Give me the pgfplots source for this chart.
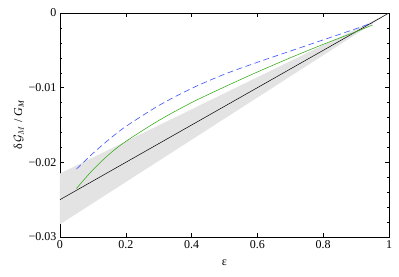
\documentclass[border=0pt]{standalone}
\usepackage{fontspec}
\setmainfont{Liberation Serif}
\usepackage{pgfplots}
\pgfplotsset{compat=1.18}
\definecolor{cgreen}{RGB}{50,170,20}
\definecolor{cblue}{RGB}{70,90,255}
\begin{document}
\begin{tikzpicture}
\begin{axis}[
  scale only axis, width=329pt, height=224pt,
  xmin=0, xmax=1, ymin=-0.03, ymax=0,
  scaled y ticks=false, scaled x ticks=false,
  xtick={0,0.2,0.4,0.6,0.8,1},
  xticklabels={0,0.2,0.4,0.6,0.8,1},
  ytick={-0.03,-0.02,-0.01,0},
  yticklabels={−0.03,−0.02,−0.01,0},
  minor y tick num=4,
  /pgf/number format/assume math mode=true,
  tick label style={font=\fontsize{12}{14}\selectfont},
  label style={font=\fontsize{12}{14}\selectfont},
  tick style={black, thin},
  major tick length=4pt, minor tick length=2pt,
  xlabel={ε}, ylabel={δ\,$\mathcal{G}_M$ / \textit{G}\textsubscript{\textit{M}}},
  xlabel style={yshift=-4pt},
  ylabel style={yshift=-2pt},
  axis line style={black},
]
\addplot[fill=black!11, draw=none] coordinates {(0,-0.0215) (1,0) (0,-0.0283)} -- cycle;
\addplot[black, line width=0.5pt] coordinates {(0,-0.025) (1,0)};
\addplot[cgreen, line width=0.55pt, smooth] coordinates {
(0.05,-0.0235)(0.1,-0.0210)(0.15,-0.0189)(0.2,-0.0172)(0.3,-0.0144)(0.4,-0.0120)
(0.5,-0.0099)(0.6,-0.0079)(0.7,-0.0060)(0.8,-0.0042)(0.9,-0.0025)(0.95,-0.0016)};
\addplot[cblue, line width=0.65pt, smooth, dash pattern=on 6pt off 3.5pt] coordinates {
(0.05,-0.0209)(0.1,-0.0188)(0.15,-0.0169)(0.2,-0.0152)(0.3,-0.0124)(0.4,-0.0101)
(0.5,-0.0082)(0.6,-0.0066)(0.7,-0.0051)(0.8,-0.0036)(0.9,-0.0021)(0.95,-0.0013)};
\end{axis}
\path ([shift={(-60pt,-39pt)}]current axis.south west) rectangle ([shift={(10pt,13pt)}]current axis.north east);
\end{tikzpicture}
\end{document}
